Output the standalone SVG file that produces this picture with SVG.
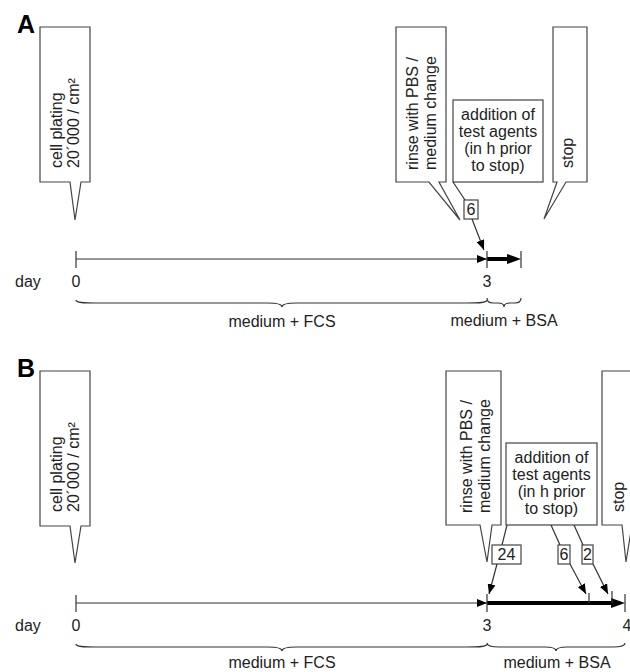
<svg xmlns="http://www.w3.org/2000/svg" width="630" height="672" viewBox="0 0 630 672">
<style>
text{font-family:"Liberation Sans",Arial,sans-serif;font-size:16px;fill:#222}
.lbl{font-weight:bold;font-size:25px;fill:#000}
.box{fill:#fff;stroke:#444;stroke-width:1.2}
.ln{fill:none;stroke:#333;stroke-width:1.2}
.thick{fill:none;stroke:#000;stroke-width:4}
.tick{stroke:#333;stroke-width:1.2}
.brace{fill:none;stroke:#333;stroke-width:1.2}
.mid{text-anchor:middle}
</style>
<defs>
<marker id="ah" markerUnits="userSpaceOnUse" markerWidth="10" markerHeight="8" refX="10" refY="4" orient="auto"><path d="M0,0 L10,4 L0,8 z" fill="#000"/></marker>
<marker id="ahT" markerUnits="userSpaceOnUse" markerWidth="14" markerHeight="10" refX="8" refY="5" orient="auto"><path d="M0,0 L14,5 L0,10 z" fill="#000"/></marker>
</defs>

<!-- Panel A -->
<g id="labelA"><text class="lbl" x="17" y="33">A</text></g>
<g id="A-plating">
<path class="box" d="M40,27 H90 V182 H81 L75,220 L70,182 H40 Z"/>
<text transform="translate(61.5,168) rotate(-90)">cell plating</text>
<text transform="translate(79,168) rotate(-90)">20´000 / cm²</text>
</g>
<g id="A-rinse">
<path class="box" d="M396,27 H446 V182 H439 L460,220 L429,182 H396 Z"/>
<text transform="translate(418,170) rotate(-90)">rinse with PBS /</text>
<text transform="translate(436,170) rotate(-90)">medium change</text>
</g>
<g id="A-addition">
<rect class="box" x="453" y="100" width="90" height="82"/>
<text class="mid" x="498" y="120">addition of</text>
<text class="mid" x="498" y="137">test agents</text>
<text class="mid" x="498" y="154">(in h prior</text>
<text class="mid" x="498" y="171">to stop)</text>
</g>
<g id="A-stop">
<path class="box" d="M553,27 H587 V182 H566 L544,219 L557,182 H553 Z"/>
<text transform="translate(573,168) rotate(-90)">stop</text>
</g>
<g id="A-6">
<rect class="box" x="464" y="200" width="14" height="19"/>
<text class="mid" x="471" y="215">6</text>
</g>
<g id="A-axis">
<text x="15" y="287">day</text>
<text class="mid" x="76" y="287">0</text>
<text class="mid" x="487" y="287">3</text>
<text class="mid" x="282" y="327">medium + FCS</text>
<text class="mid" x="504" y="326">medium + BSA</text>
</g>

<!-- Panel B -->
<g id="labelB"><text class="lbl" x="17" y="377">B</text></g>
<g id="B-plating">
<path class="box" d="M40,371 H90 V526 H81 L75,563 L70,526 H40 Z"/>
<text transform="translate(61.5,512) rotate(-90)">cell plating</text>
<text transform="translate(79,512) rotate(-90)">20´000 / cm²</text>
</g>
<g id="B-rinse">
<path class="box" d="M446,371 H501 V525 H492 L487,562 L480,525 H446 Z"/>
<text transform="translate(472,513) rotate(-90)">rinse with PBS /</text>
<text transform="translate(490,513) rotate(-90)">medium change</text>
</g>
<g id="B-addition">
<rect class="box" x="506" y="443" width="91" height="82"/>
<text class="mid" x="551.5" y="463">addition of</text>
<text class="mid" x="551.5" y="480">test agents</text>
<text class="mid" x="551.5" y="497">(in h prior</text>
<text class="mid" x="551.5" y="514">to stop)</text>
</g>
<g id="B-stop">
<path class="box" d="M602,371 H640 V525 H632 L626,562 L622,525 H602 Z"/>
<text transform="translate(624,512) rotate(-90)">stop</text>
</g>
<g id="B-24">
<rect class="box" x="492" y="545" width="29" height="19"/>
<text class="mid" x="506.5" y="560">24</text>
</g>
<g id="B-6">
<rect class="box" x="558" y="545" width="12" height="19"/>
<text class="mid" x="564" y="560">6</text>
</g>
<g id="B-2">
<rect class="box" x="582" y="545" width="11" height="19"/>
<text class="mid" x="587.5" y="560">2</text>
</g>
<g id="B-axis">
<text x="15" y="631">day</text>
<text class="mid" x="76" y="631">0</text>
<text class="mid" x="487" y="631">3</text>
<text class="mid" x="627" y="631">4</text>
<text class="mid" x="282" y="668">medium + FCS</text>
<text class="mid" x="557" y="668">medium + BSA</text>
</g>

<g id="connectors">
<!-- A -->
<line class="ln" x1="453" y1="182" x2="465" y2="200"/>
<line class="ln" x1="472" y1="219" x2="484" y2="250" marker-end="url(#ah)"/>
<line class="ln" x1="76" y1="259" x2="487" y2="259" marker-end="url(#ah)"/>
<line class="thick" x1="487" y1="259" x2="515" y2="259" marker-end="url(#ahT)"/>
<line class="tick" x1="76" y1="251" x2="76" y2="268"/>
<line class="tick" x1="487" y1="251" x2="487" y2="268"/>
<line class="tick" x1="521" y1="251" x2="521" y2="268"/>
<path class="brace" d="M76,300 C76,303 84,303 96,303 L268,303 C276,303 282,304 282,307 C282,304 288,303 296,303 L467,303 C479,303 487,303 487,300"/>
<path class="brace" d="M487,298 C487,302 489,303 493,303 L498,303 C501,303 504,304 504,307 C504,304 507,303 510,303 L515,303 C519,303 521,302 521,298"/>
<!-- B -->
<line class="ln" x1="507" y1="525" x2="502" y2="545"/>
<line class="ln" x1="551" y1="525" x2="560" y2="545"/>
<line class="ln" x1="574" y1="525" x2="583" y2="545"/>
<line class="ln" x1="497" y1="564" x2="489" y2="594" marker-end="url(#ah)"/>
<line class="ln" x1="570" y1="564" x2="586" y2="594" marker-end="url(#ah)"/>
<line class="ln" x1="593" y1="564" x2="608" y2="594" marker-end="url(#ah)"/>
<line class="ln" x1="76" y1="603" x2="487" y2="603" marker-end="url(#ah)"/>
<line class="thick" x1="487" y1="603" x2="619" y2="603" marker-end="url(#ahT)"/>
<line class="tick" x1="76" y1="595" x2="76" y2="612"/>
<line class="tick" x1="487" y1="594" x2="487" y2="612"/>
<line class="tick" x1="589" y1="593" x2="589" y2="603"/>
<line class="tick" x1="612" y1="591" x2="612" y2="603"/>
<line class="tick" x1="625" y1="594" x2="625" y2="612"/>
<path class="brace" d="M76,644 C76,647 84,647 96,647 L268,647 C276,647 282,648 282,651 C282,648 288,647 296,647 L467,647 C479,647 487,647 487,644"/>
<path class="brace" d="M487,643 C487,646 491,647 499,647 L545,647 C552,647 556,648 556,651 C556,648 560,647 567,647 L613,647 C621,647 625,646 625,643"/>
</g>
</svg>
